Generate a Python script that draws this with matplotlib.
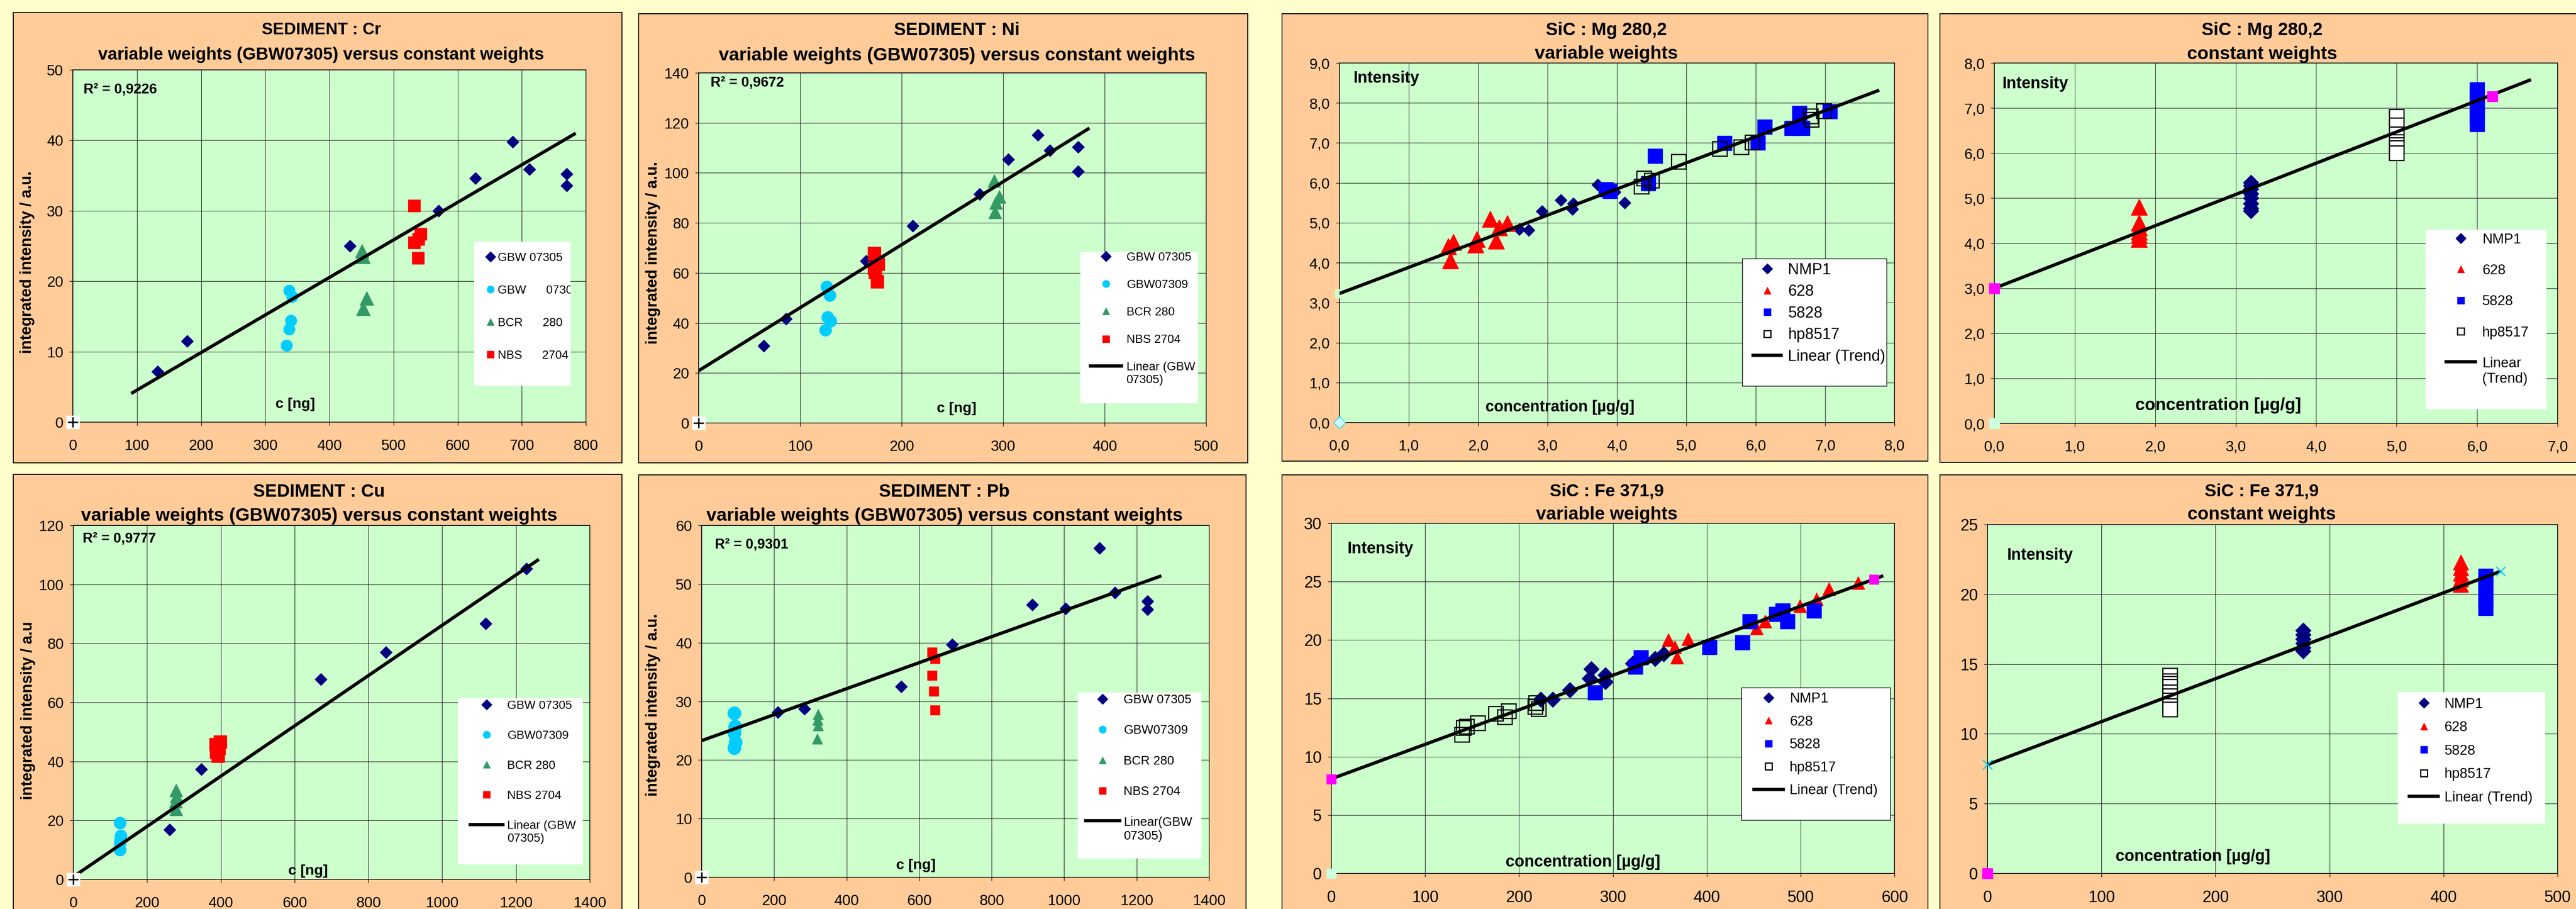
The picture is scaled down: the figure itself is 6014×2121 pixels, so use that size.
import matplotlib.pyplot as plt
from matplotlib.patches import Rectangle

W, H = 6014, 2121
FONT = ['Liberation Sans', 'DejaVu Sans']

NAVY, CYAN, GREEN, RED, BLUE, MAG = '#000080', '#00CCFF', '#339966', '#FF0000', '#0000FF', '#FF00FF'

# ---------------- data ----------------
# SEDIMENT : Cr
cr_gbw05_x = [132, 178, 432, 570, 628, 686, 712, 770, 770]
cr_gbw05_y = [7.15, 11.5, 25.0, 30.0, 34.6, 39.8, 35.9, 35.2, 33.6]
cr_gbw09_x = [337, 342, 340, 337, 333]
cr_gbw09_y = [18.7, 17.8, 14.4, 13.2, 10.9]
cr_bcr_x = [451, 453, 458, 453]
cr_bcr_y = [24.3, 23.5, 17.6, 16.1]
cr_nbs_x = [532, 542, 539, 532, 538]
cr_nbs_y = [30.7, 26.7, 26.0, 25.5, 23.3]
cr_trend_x = [91, 784]
cr_trend_y = [4.07, 41.0]

# SEDIMENT : Ni
ni_gbw05_x = [64, 86, 165, 211, 277, 305, 334, 346, 374, 374]
ni_gbw05_y = [30.8, 41.7, 64.8, 78.8, 91.5, 105.3, 115.2, 108.9, 110.4, 100.6]
ni_gbw09_x = [126, 129, 127, 130, 125]
ni_gbw09_y = [54.5, 51.0, 42.3, 40.8, 37.1]
ni_bcr_x = [291, 296, 293, 292]
ni_bcr_y = [96.8, 90.4, 88.1, 84.3]
ni_nbs_x = [173, 177, 174, 176, 173]
ni_nbs_y = [67.8, 63.5, 60.3, 56.6, 62.0]
ni_trend_x = [0, 385]
ni_trend_y = [20.9, 117.9]

# SEDIMENT : Cu
cu_gbw05_x = [261, 347, 671, 848, 1118, 1228]
cu_gbw05_y = [16.8, 37.4, 67.8, 77.0, 86.8, 105.3]
cu_gbw09_x = [127, 129, 128, 126, 127]
cu_gbw09_y = [19.2, 14.8, 13.5, 12.3, 10.0]
cu_bcr_x = [279, 280, 278, 279]
cu_bcr_y = [30.2, 28.2, 26.4, 23.8]
cu_nbs_x = [398, 387, 395, 388, 392]
cu_nbs_y = [46.6, 45.8, 44.5, 43.2, 41.9]
cu_trend_x = [0, 1262]
cu_trend_y = [0.9, 108.5]

# SEDIMENT : Pb
pb_gbw05_x = [210, 284, 551, 691, 912, 1004, 1098, 1140, 1230, 1230]
pb_gbw05_y = [28.1, 28.7, 32.5, 39.7, 46.5, 45.8, 56.1, 48.5, 47.1, 45.7]
pb_gbw09_x = [90, 92, 90, 93, 90]
pb_gbw09_y = [28.0, 25.7, 24.6, 23.0, 22.1]
pb_bcr_x = [321, 320, 321, 319]
pb_bcr_y = [27.8, 26.8, 25.9, 23.6]
pb_nbs_x = [636, 644, 636, 640, 644]
pb_nbs_y = [38.4, 37.3, 34.4, 31.7, 28.5]
pb_trend_x = [0, 1268]
pb_trend_y = [23.3, 51.4]

# SiC : Mg 280,2  variable weights
mgv_nmp_x = [2.59, 2.73, 2.92, 3.19, 3.37, 3.36, 3.72, 3.97, 4.11]
mgv_nmp_y = [4.84, 4.82, 5.29, 5.57, 5.48, 5.34, 5.95, 5.77, 5.50]
mgv_628_x = [1.57, 1.64, 1.60, 1.98, 1.96, 2.17, 2.30, 2.26, 2.42]
mgv_628_y = [4.41, 4.52, 4.05, 4.59, 4.45, 5.10, 4.88, 4.55, 4.99]
mgv_5828_x = [3.84, 3.90, 4.45, 4.55, 5.55, 6.03, 6.13, 6.52, 6.63, 6.67, 7.07]
mgv_5828_y = [5.84, 5.79, 5.99, 6.67, 6.99, 7.00, 7.40, 7.37, 7.74, 7.37, 7.79]
mgv_hp_x = [4.35, 4.39, 4.50, 4.89, 5.48, 5.79, 5.95, 6.79, 6.80, 6.98]
mgv_hp_y = [5.91, 6.11, 6.06, 6.53, 6.85, 6.90, 7.02, 7.67, 7.58, 7.80]
mgv_trend_x = [0, 7.78]
mgv_trend_y = [3.23, 8.32]

# SiC : Mg 280,2  constant weights
mgc_nmp_x = [3.19, 3.19, 3.19, 3.19, 3.19, 3.19, 3.19, 3.19]
mgc_nmp_y = [5.35, 5.28, 5.20, 5.10, 5.00, 4.88, 4.78, 4.72]
mgc_628_x = [1.80, 1.80, 1.80, 1.80, 1.80, 1.80]
mgc_628_y = [4.80, 4.45, 4.35, 4.25, 4.18, 4.09]
mgc_5828_x = [6.0, 6.0, 6.0, 6.0, 6.0, 6.0]
mgc_5828_y = [7.41, 7.25, 7.10, 6.95, 6.80, 6.64]
mgc_hp_x = [5.0, 5.0, 5.0, 5.0, 5.0, 5.0, 5.0]
mgc_hp_y = [6.81, 6.62, 6.42, 6.25, 6.18, 6.12, 6.00]
mgc_ends_x = [0, 6.19]
mgc_ends_y = [3.0, 7.26]
mgc_trend_x = [0, 6.67]
mgc_trend_y = [3.0, 7.63]

# SiC : Fe 371,9  variable weights
fev_nmp_x = [223, 236, 254, 277, 275, 292, 292, 321, 345, 354]
fev_nmp_y = [14.9, 14.9, 15.7, 17.5, 16.7, 17.0, 16.4, 18.0, 18.4, 18.8]
fev_628_x = [359, 366, 368, 380, 453, 462, 499, 517, 530, 561]
fev_628_y = [20.0, 19.4, 18.5, 20.1, 21.0, 21.6, 22.9, 23.5, 24.4, 24.9]
fev_5828_x = [281, 324, 330, 403, 438, 446, 474, 481, 486, 514]
fev_5828_y = [15.5, 17.7, 18.5, 19.4, 19.8, 21.6, 22.2, 22.5, 21.6, 22.5]
fev_hp_x = [139, 141, 144, 156, 175, 185, 189, 217, 218, 221]
fev_hp_y = [11.9, 12.5, 12.6, 12.9, 13.7, 13.4, 13.9, 14.3, 14.6, 14.1]
fev_ends_x = [0, 578]
fev_ends_y = [8.06, 25.2]
fev_trend_x = [0, 588]
fev_trend_y = [8.1, 25.5]

# SiC : Fe 371,9  constant weights
fec_nmp_x = [277, 277, 277, 277, 277, 277]
fec_nmp_y = [17.4, 17.1, 16.8, 16.5, 16.2, 15.95]
fec_628_x = [415, 415, 415, 415, 415]
fec_628_y = [22.3, 21.9, 21.5, 21.1, 20.7]
fec_5828_x = [437, 437, 437, 437, 437, 437]
fec_5828_y = [21.3, 20.85, 20.4, 19.9, 19.45, 19.0]
fec_hp_x = [160, 160, 160, 160, 160, 160, 160, 160, 160]
fec_hp_y = [14.2, 13.8, 13.6, 13.4, 13.0, 12.7, 12.4, 12.0, 11.76]
fec_ends_x = [0, 450]
fec_ends_y = [7.8, 21.65]
fec_trend_x = [0, 450]
fec_trend_y = [7.8, 21.65]

# tick labels
cr_xticks = [0, 100, 200, 300, 400, 500, 600, 700, 800]
cr_yticks = [0, 10, 20, 30, 40, 50]
ni_xticks = [0, 100, 200, 300, 400, 500]
ni_yticks = [0, 20, 40, 60, 80, 100, 120, 140]
cu_xticks = [0, 200, 400, 600, 800, 1000, 1200, 1400]
cu_yticks = [0, 20, 40, 60, 80, 100, 120]
pb_xticks = [0, 200, 400, 600, 800, 1000, 1200, 1400]
pb_yticks = [0, 10, 20, 30, 40, 50, 60]
mgv_xlabels = ['0,0', '1,0', '2,0', '3,0', '4,0', '5,0', '6,0', '7,0', '8,0']
mgv_ylabels = ['0,0', '1,0', '2,0', '3,0', '4,0', '5,0', '6,0', '7,0', '8,0', '9,0']
mgc_xlabels = ['0,0', '1,0', '2,0', '3,0', '4,0', '5,0', '6,0', '7,0']
mgc_ylabels = ['0,0', '1,0', '2,0', '3,0', '4,0', '5,0', '6,0', '7,0', '8,0']
fev_xticks = [0, 100, 200, 300, 400, 500, 600]
fev_yticks = [0, 5, 10, 15, 20, 25, 30]
fec_xticks = [0, 100, 200, 300, 400, 500]
fec_yticks = [0, 5, 10, 15, 20, 25]

sed_labels = ['GBW 07305', 'GBW07309', 'BCR 280', 'NBS 2704']
sic_labels = ['NMP1', '628', '5828', 'hp8517', 'Linear (Trend)']

# ---------------- figure ----------------
fig = plt.figure(figsize=(W / 100, H / 100), dpi=100, facecolor='#FFFFCC')
TREND_LW = 5.5


def panel(x0, y0, x1, y1):
    fig.add_artist(Rectangle((x0 / W, 1 - y1 / H), (x1 - x0) / W, (y1 - y0) / H,
                             transform=fig.transFigure, facecolor='#FFCC99',
                             edgecolor='black', lw=1.5, zorder=-5))


def plot_area(box, xlim, ylim, xt, xl, yt, yl, fs=25):
    x0, y0, x1, y1 = box
    ax = fig.add_axes([x0 / W, 1 - y1 / H, (x1 - x0) / W, (y1 - y0) / H])
    ax.set_facecolor('#CCFFCC')
    ax.set_xlim(xlim)
    ax.set_ylim(ylim)
    ax.set_xticks(xt)
    ax.set_xticklabels(xl, fontfamily=FONT, fontsize=fs)
    ax.set_yticks(yt)
    ax.set_yticklabels(yl, fontfamily=FONT, fontsize=fs)
    ax.tick_params(axis='x', direction='out', length=6, width=1, pad=22)
    ax.tick_params(axis='y', direction='out', length=6, width=1, pad=10)
    ax.grid(True, color='black', lw=0.75)
    ax.set_axisbelow(True)
    for s in ax.spines.values():
        s.set_color('black')
        s.set_linewidth(1.2)
    return ax


def title(xc, y1, y2, l1, l2, fs=30):
    fig.text(xc / W, 1 - y1 / H, l1, ha='center', va='center', fontfamily=FONT,
             fontweight='bold', fontsize=fs)
    fig.text(xc / W, 1 - y2 / H, l2, ha='center', va='center', fontfamily=FONT,
             fontweight='bold', fontsize=fs + 1)


def ylab(xc, yc, txt):
    fig.text(xc / W, 1 - yc / H, txt, rotation=90, ha='center', va='center',
             fontfamily=FONT, fontweight='bold', fontsize=26)


def note(ax, x, y, txt, fs, ha='left'):
    ax.text(x, y, txt, fontfamily=FONT, fontweight='bold', fontsize=fs, ha=ha, va='center')


def legend_box(ax, handles, labels, box, first_y, pitch, fs, hl, htp, off, edge=None):
    # white box in data coordinates, legend entries laid over it
    bx0, by0, bx1, by1 = box
    rect = Rectangle((bx0, by0), bx1 - bx0, by1 - by0, facecolor='white',
                     edgecolor=edge if edge else 'none', lw=1.2, zorder=8, clip_on=False)
    ax.add_patch(rect)
    fpx = fs * 100 / 72
    px0, pytop = ax.transData.transform((bx0, first_y))
    ax_x, ax_y = ax.transAxes.inverted().transform((px0 + off, pytop + 0.6 * fpx))
    leg = ax.legend(handles, labels, loc='upper left', bbox_to_anchor=(ax_x, ax_y),
                    bbox_transform=ax.transAxes, frameon=False, borderaxespad=0,
                    borderpad=0, labelspacing=(pitch - 1.15 * fpx) / fpx,
                    handlelength=hl, handletextpad=htp,
                    prop={'family': FONT, 'size': fs})
    leg.set_zorder(9)
    for h in leg.legend_handles:
        if h.get_marker() not in (None, 'None', ''):
            h.set_markersize(12)
    # two-line labels: keep the handle level with the first line
    try:
        for col in leg._legend_handle_box.get_children():
            for row in col.get_children():
                if '\n' in row.get_children()[1].get_text():
                    row.align = 'top'
    except Exception:
        pass
    return leg, rect


def origin_plus(ax):
    ax.plot([0], [0], 's', color='white', ms=22, clip_on=False, zorder=6)
    ax.plot([0], [0], '+', color='black', ms=17, mew=2.5, clip_on=False, zorder=7)


def sediment(ax, gx, gy, cx, cy, bx, by, nx, ny, tx, ty, sizes):
    sd, so, st, ss = sizes
    h1, = ax.plot(gx, gy, 'D', color=NAVY, ms=sd, ls='none', zorder=4)
    h2, = ax.plot(cx, cy, 'o', color=CYAN, ms=so, ls='none', zorder=4)
    h3, = ax.plot(bx, by, '^', color=GREEN, ms=st, ls='none', zorder=4)
    h4, = ax.plot(nx, ny, 's', color=RED, ms=ss, ls='none', zorder=4)
    h5, = ax.plot(tx, ty, '-', color='black', lw=TREND_LW, zorder=5, solid_capstyle='butt')
    origin_plus(ax)
    return [h1, h2, h3, h4, h5]


def sic(ax, nx, ny, ax6, ay6, bx, by, hx, hy, tx, ty, sizes, hp_face='none'):
    sd, st, ss, sh = sizes
    h1, = ax.plot(nx, ny, 'D', color=NAVY, ms=sd, ls='none', zorder=4)
    h2, = ax.plot(ax6, ay6, '^', color=RED, ms=st, ls='none', zorder=4)
    h3, = ax.plot(bx, by, 's', color=BLUE, ms=ss, ls='none', zorder=4)
    h4, = ax.plot(hx, hy, 's', mfc=hp_face, mec='black', mew=2, ms=sh, ls='none', zorder=4)
    h5, = ax.plot(tx, ty, '-', color='black', lw=TREND_LW, zorder=5, solid_capstyle='butt')
    return [h1, h2, h3, h4, h5]


for b in [(31, 29, 1452, 1080), (1491, 32, 2913, 1080), (2993, 32, 4501, 1076),
          (4529, 32, 6030, 1079), (31, 1107, 1452, 2140), (1491, 1108, 2909, 2140),
          (2993, 1108, 4501, 2140), (4529, 1108, 6030, 2140)]:
    panel(*b)

sub = 'variable weights (GBW07305) versus constant weights'

# ---- Cr ----
ax = plot_area((170, 163, 1368, 985), (0, 800), (0, 50), cr_xticks, cr_xticks,
               cr_yticks, cr_yticks)
hs = sediment(ax, cr_gbw05_x, cr_gbw05_y, cr_gbw09_x, cr_gbw09_y, cr_bcr_x, cr_bcr_y,
              cr_nbs_x, cr_nbs_y, cr_trend_x, cr_trend_y, (14, 19, 23, 20))
leg, rect = legend_box(ax, hs[:4], ['GBW 07305', 'GBW      07309', 'BCR      280', 'NBS      2704'],
                       (626, 5.2, 776, 25.6), 23.1, 82, 20, 1.0, 0.11, 24)
for t in leg.get_texts():
    t.set_clip_path(rect)
note(ax, 17, 47.2, 'R² = 0,9226', 23.5)
note(ax, 347, 2.5, 'c [ng]', 24.5, ha='center')
title(750, 70, 128, 'SEDIMENT : Cr', sub, fs=28)
ylab(64, 612, 'integrated intensity / a.u.')

# ---- Ni ----
ax = plot_area((1631, 170, 2816, 987), (0, 500), (0, 140), ni_xticks, ni_xticks,
               ni_yticks, ni_yticks)
hs = sediment(ax, ni_gbw05_x, ni_gbw05_y, ni_gbw09_x, ni_gbw09_y, ni_bcr_x, ni_bcr_y,
              ni_nbs_x, ni_nbs_y, ni_trend_x, ni_trend_y, (14, 20, 22, 22))
legend_box(ax, hs, sed_labels + ['Linear (GBW\n07305)'], (376, 7.9, 492, 68.4),
           65.5, 70, 20, 2.88, 0.29, 20)
note(ax, 12, 136, 'R² = 0,9672', 23.5)
note(ax, 254, 5.8, 'c [ng]', 24.5, ha='center')
title(2234, 71, 130, 'SEDIMENT : Ni', sub)
ylab(1525, 590, 'integrated intensity / a.u.')

# ---- Mg variable ----
ax = plot_area((3127, 147, 4423, 986), (0, 8), (0, 9), range(9), mgv_xlabels,
               range(10), mgv_ylabels)
hs = sic(ax, mgv_nmp_x, mgv_nmp_y, mgv_628_x, mgv_628_y, mgv_5828_x, mgv_5828_y,
         mgv_hp_x, mgv_hp_y, mgv_trend_x, mgv_trend_y, (14, 27, 25, 25))
ax.plot([0], [mgv_trend_y[0]], 's', color='#CCFFCC', ms=14, clip_on=False, zorder=3)
ax.plot([0], [0], 'D', color='#CCFFFF', mec=CYAN, ms=14, clip_on=False, zorder=6)
legend_box(ax, hs, sic_labels, (5.81, 0.91, 7.89, 4.10), 3.77, 57, 26, 2.02, 0.33, 21, edge='black')
note(ax, 0.2, 8.61, 'Intensity', 27)
note(ax, 3.18, 0.38, 'concentration [µg/g]', 26, ha='center')
title(3750, 71, 126, 'SiC : Mg 280,2', 'variable weights')

# ---- Mg constant ----
ax = plot_area((4656, 147, 5971, 988), (0, 7), (0, 8), range(8), mgc_xlabels,
               range(9), mgc_ylabels)
hs = sic(ax, mgc_nmp_x, mgc_nmp_y, mgc_628_x, mgc_628_y, mgc_5828_x, mgc_5828_y,
         mgc_hp_x, mgc_hp_y, mgc_trend_x, mgc_trend_y, (18, 27, 25, 25), hp_face='white')
ax.plot(mgc_ends_x, mgc_ends_y, 's', color=MAG, ms=17, ls='none', clip_on=False, zorder=6)
ax.plot([0], [0], 's', color='#CCFFDD', ms=17, clip_on=False, zorder=6)
legend_box(ax, hs, sic_labels[:4] + ['Linear\n(Trend)'], (5.36, 0.31, 6.86, 4.30), 4.04, 79,
           23.6, 2.32, 0.37, 44)
note(ax, 0.1, 7.53, 'Intensity', 27)
note(ax, 2.78, 0.4, 'concentration [µg/g]', 29, ha='center')
title(5281, 71, 127, 'SiC : Mg 280,2', 'constant weights')

# ---- Cu ----
ax = plot_area((171, 1226, 1377, 2052), (0, 1400), (0, 120), cu_xticks, cu_xticks,
               cu_yticks, cu_yticks)
hs = sediment(ax, cu_gbw05_x, cu_gbw05_y, cu_gbw09_x, cu_gbw09_y, cu_bcr_x, cu_bcr_y,
              cu_nbs_x, cu_nbs_y, cu_trend_x, cu_trend_y, (14, 20, 22, 22))
legend_box(ax, hs, sed_labels + ['Linear (GBW\n07305)'], (1043, 5.1, 1382, 61.4),
           58.3, 76, 20, 2.99, 0.25, 25)
note(ax, 26, 115.4, 'R² = 0,9777', 23.5)
note(ax, 636, 2.9, 'c [ng]', 24.5, ha='center')
title(745, 1148, 1204, 'SEDIMENT : Cu', sub)
ylab(66, 1658, 'integrated intensity / a.u')

# ---- Pb ----
ax = plot_area((1638, 1226, 2823, 2047), (0, 1400), (0, 60), pb_xticks, pb_xticks,
               pb_yticks, pb_yticks)
hs = sediment(ax, pb_gbw05_x, pb_gbw05_y, pb_gbw09_x, pb_gbw09_y, pb_bcr_x, pb_bcr_y,
              pb_nbs_x, pb_nbs_y, pb_trend_x, pb_trend_y, (14, 22, 17, 16))
legend_box(ax, hs, sed_labels + ['Linear(GBW\n07305)'], (1037, 3.2, 1379, 31.5),
           30.0, 77, 21, 2.98, 0.2, 15)
note(ax, 37, 56.7, 'R² = 0,9301', 23.5)
note(ax, 591, 2.0, 'c [ng]', 24.5, ha='center')
title(2205, 1148, 1204, 'SEDIMENT : Pb', sub)
ylab(1525, 1645, 'integrated intensity / a.u.')

# ---- Fe variable ----
ax = plot_area((3108, 1221, 4423, 2038), (0, 600), (0, 30), fev_xticks, fev_xticks,
               fev_yticks, fev_yticks, fs=27)
hs = sic(ax, fev_nmp_x, fev_nmp_y, fev_628_x, fev_628_y, fev_5828_x, fev_5828_y,
         fev_hp_x, fev_hp_y, fev_trend_x, fev_trend_y, (18, 22, 24, 24))
ax.plot(fev_ends_x, fev_ends_y, 's', color=MAG, ms=16, ls='none', clip_on=False, zorder=6)
ax.plot([0], [0], 's', color='#CCFFDD', ms=16, clip_on=False, zorder=6)
legend_box(ax, hs, sic_labels, (437, 4.57, 596, 15.9), 14.8, 60, 23.5, 2.33, 0.34, 25, edge='black')
note(ax, 17, 27.8, 'Intensity', 27)
note(ax, 268, 0.97, 'concentration [µg/g]', 27, ha='center')
title(3751, 1147, 1201, 'SiC : Fe 371,9', 'variable weights', fs=29.5)

# ---- Fe constant ----
ax = plot_area((4640, 1224, 5971, 2038), (0, 500), (0, 25), fec_xticks, fec_xticks,
               fec_yticks, fec_yticks, fs=27)
hs = sic(ax, fec_nmp_x, fec_nmp_y, fec_628_x, fec_628_y, fec_5828_x, fec_5828_y,
         fec_hp_x, fec_hp_y, fec_trend_x, fec_trend_y, (18, 26, 25, 24), hp_face='white')
ax.plot(fec_ends_x, fec_ends_y, 'x', color=CYAN, ms=16, mew=2, ls='none', clip_on=False, zorder=6)
ax.plot([0], [0], 's', color=MAG, ms=17, clip_on=False, zorder=6)
legend_box(ax, hs, sic_labels, (360, 3.55, 489, 13.0), 12.0, 61, 23.5, 2.3, 0.31, 23)
note(ax, 17, 22.8, 'Intensity', 27)
note(ax, 180, 1.2, 'concentration [µg/g]', 27, ha='center')
title(5280, 1146, 1201, 'SiC : Fe 371,9', 'constant weights', fs=29.5)

fig.savefig('out.png', dpi=100, facecolor=fig.get_facecolor())
